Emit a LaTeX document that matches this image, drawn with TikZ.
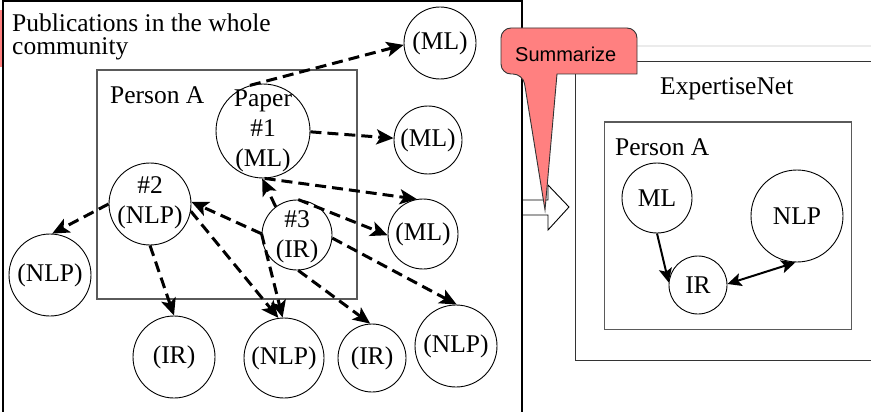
\documentclass[tikz,border=0pt]{standalone}
\usepackage{fontspec}
\setmainfont{Liberation Serif}
\newfontfamily\calloutfont{Liberation Sans}
\usetikzlibrary{arrows.meta}
\definecolor{calloutred}{RGB}{255,128,128}
\definecolor{framegray}{RGB}{90,90,90}

\begin{document}
\begin{tikzpicture}[x=1pt,y=-1pt,
  txt/.style={font=\fontsize{25.5}{30}\selectfont, inner sep=0pt},
  paper/.style={circle, draw, line width=0.9pt, inner sep=0pt, align=center,
                font=\fontsize{25.5}{30}\selectfont},
  cite/.style={line width=3pt, dash pattern=on 11pt off 6pt,
               -{Stealth[length=17pt,width=15pt,inset=4pt]}},
  link/.style={line width=2pt, -{Stealth[length=14pt,width=13pt,inset=3pt]}},
  biglink/.style={line width=2pt, {Stealth[length=14pt,width=13pt,inset=3pt]}-{Stealth[length=14pt,width=13pt,inset=3pt]}},
]
\useasboundingbox (0,0) rectangle (871,412);
\clip (0,0) rectangle (871,412);

% frames
\fill[calloutred] (0,10) rectangle (1.5,67);
\draw[line width=1.5pt] (3,1) rectangle (522,430);
\draw[line width=1.1pt, framegray] (97,70) rectangle (357,299);
\draw[black!8, line width=2pt] (637,46) -- (880,46);
\draw[line width=1pt, black!80] (575,62) rectangle (890,360);
\draw[line width=1pt, framegray] (604,122) rectangle (851,329);

% captions
\node[txt, anchor=base west, align=left, font=\fontsize{25.5}{23}\selectfont] (pubs) at (12,55)
  {Publications in the whole\\community};
\node[txt, anchor=base west] (personL) at (110,103) {Person A};
\node[txt, anchor=base west] (expnet) at (660,95) {ExpertiseNet};
\node[txt, anchor=base west] (personR) at (615,155) {Person A};

% papers of person A
\node[paper, minimum size=94] (p1) at (263,131) {};
\node[txt, align=center] (p1t) at (p1) {Paper\\\#1\\(ML)};
\node[paper, minimum size=82] (n2) at (150,204) {};
\node[txt, align=center] (n2t) at (150,203) {\#2\\(NLP)};
\node[paper, minimum size=70] (n3) at (297,235) {};
\node[txt, align=center] (n3t) at (297,237) {\#3\\(IR)};

% papers in the community
\node[paper, minimum size=72] (ml1) at (440,43) {(ML)};
\node[paper, minimum size=68] (ml2) at (428,140) {(ML)};
\node[paper, minimum size=70] (ml3) at (423,234) {(ML)};
\node[paper, minimum size=82] (nlpL) at (50,275) {(NLP)};
\node[paper, minimum size=82] (ir1) at (174,357) {(IR)};
\node[paper, minimum size=80] (nlp2) at (284,358) {(NLP)};
\node[paper, minimum size=68] (ir2) at (372,358) {(IR)};
\node[paper, minimum size=82] (nlp3) at (456,346) {(NLP)};

% citation links
\draw[cite] (p1.106) -- (ml1.183);
\draw[cite] (p1.-1) -- (ml2.177);
\draw[cite] (p1.-88) -- (ml3.100);
\draw[cite] (n3.127) -- (p1.269);
\draw[cite] (n3.88) -- (ml3.182);
\draw[cite] (n3.-5) -- (nlp3.89);
\draw[cite] (n3.-88) -- (ir2.93);
\draw[cite] (n3.178) -- (n2.3);
\draw[cite] (n3.178) -- (nlp2.92);
\draw[cite] (n2.-10) -- (nlp2.98);
\draw[cite] (n2.180) -- (nlpL.87);
\draw[cite] (n2.270) -- (ir1.90);

% summary arrow
\draw[fill=white, line width=0.9pt] (523,200) -- (548,200) -- (548,185) -- (569,207)
  -- (548,230) -- (548,215) -- (523,215);
\draw[fill=calloutred, line width=0.9pt, draw=black!80]
  (545,210) -- (557,74) -- (637,74) [rounded corners=10pt] -- (637,28) -- (501,28)
  -- (501,74) -- (523,74) [sharp corners] -- cycle;
\node[anchor=base west, inner sep=0pt, font=\calloutfont\fontsize{20}{24}\selectfont]
  (sumtext) at (515,62) {Summarize};

% expertise network
\node[paper, minimum size=70] (eml) at (657,198) {ML};
\node[paper, minimum size=58] (eir) at (698,285) {IR};
\node[paper, minimum size=92] (enlp) at (797,216) {NLP};
\draw[link] (eml.270) -- (eir.175);
\draw[biglink] (eir.2) -- (enlp.268);
\end{tikzpicture}
\end{document}
